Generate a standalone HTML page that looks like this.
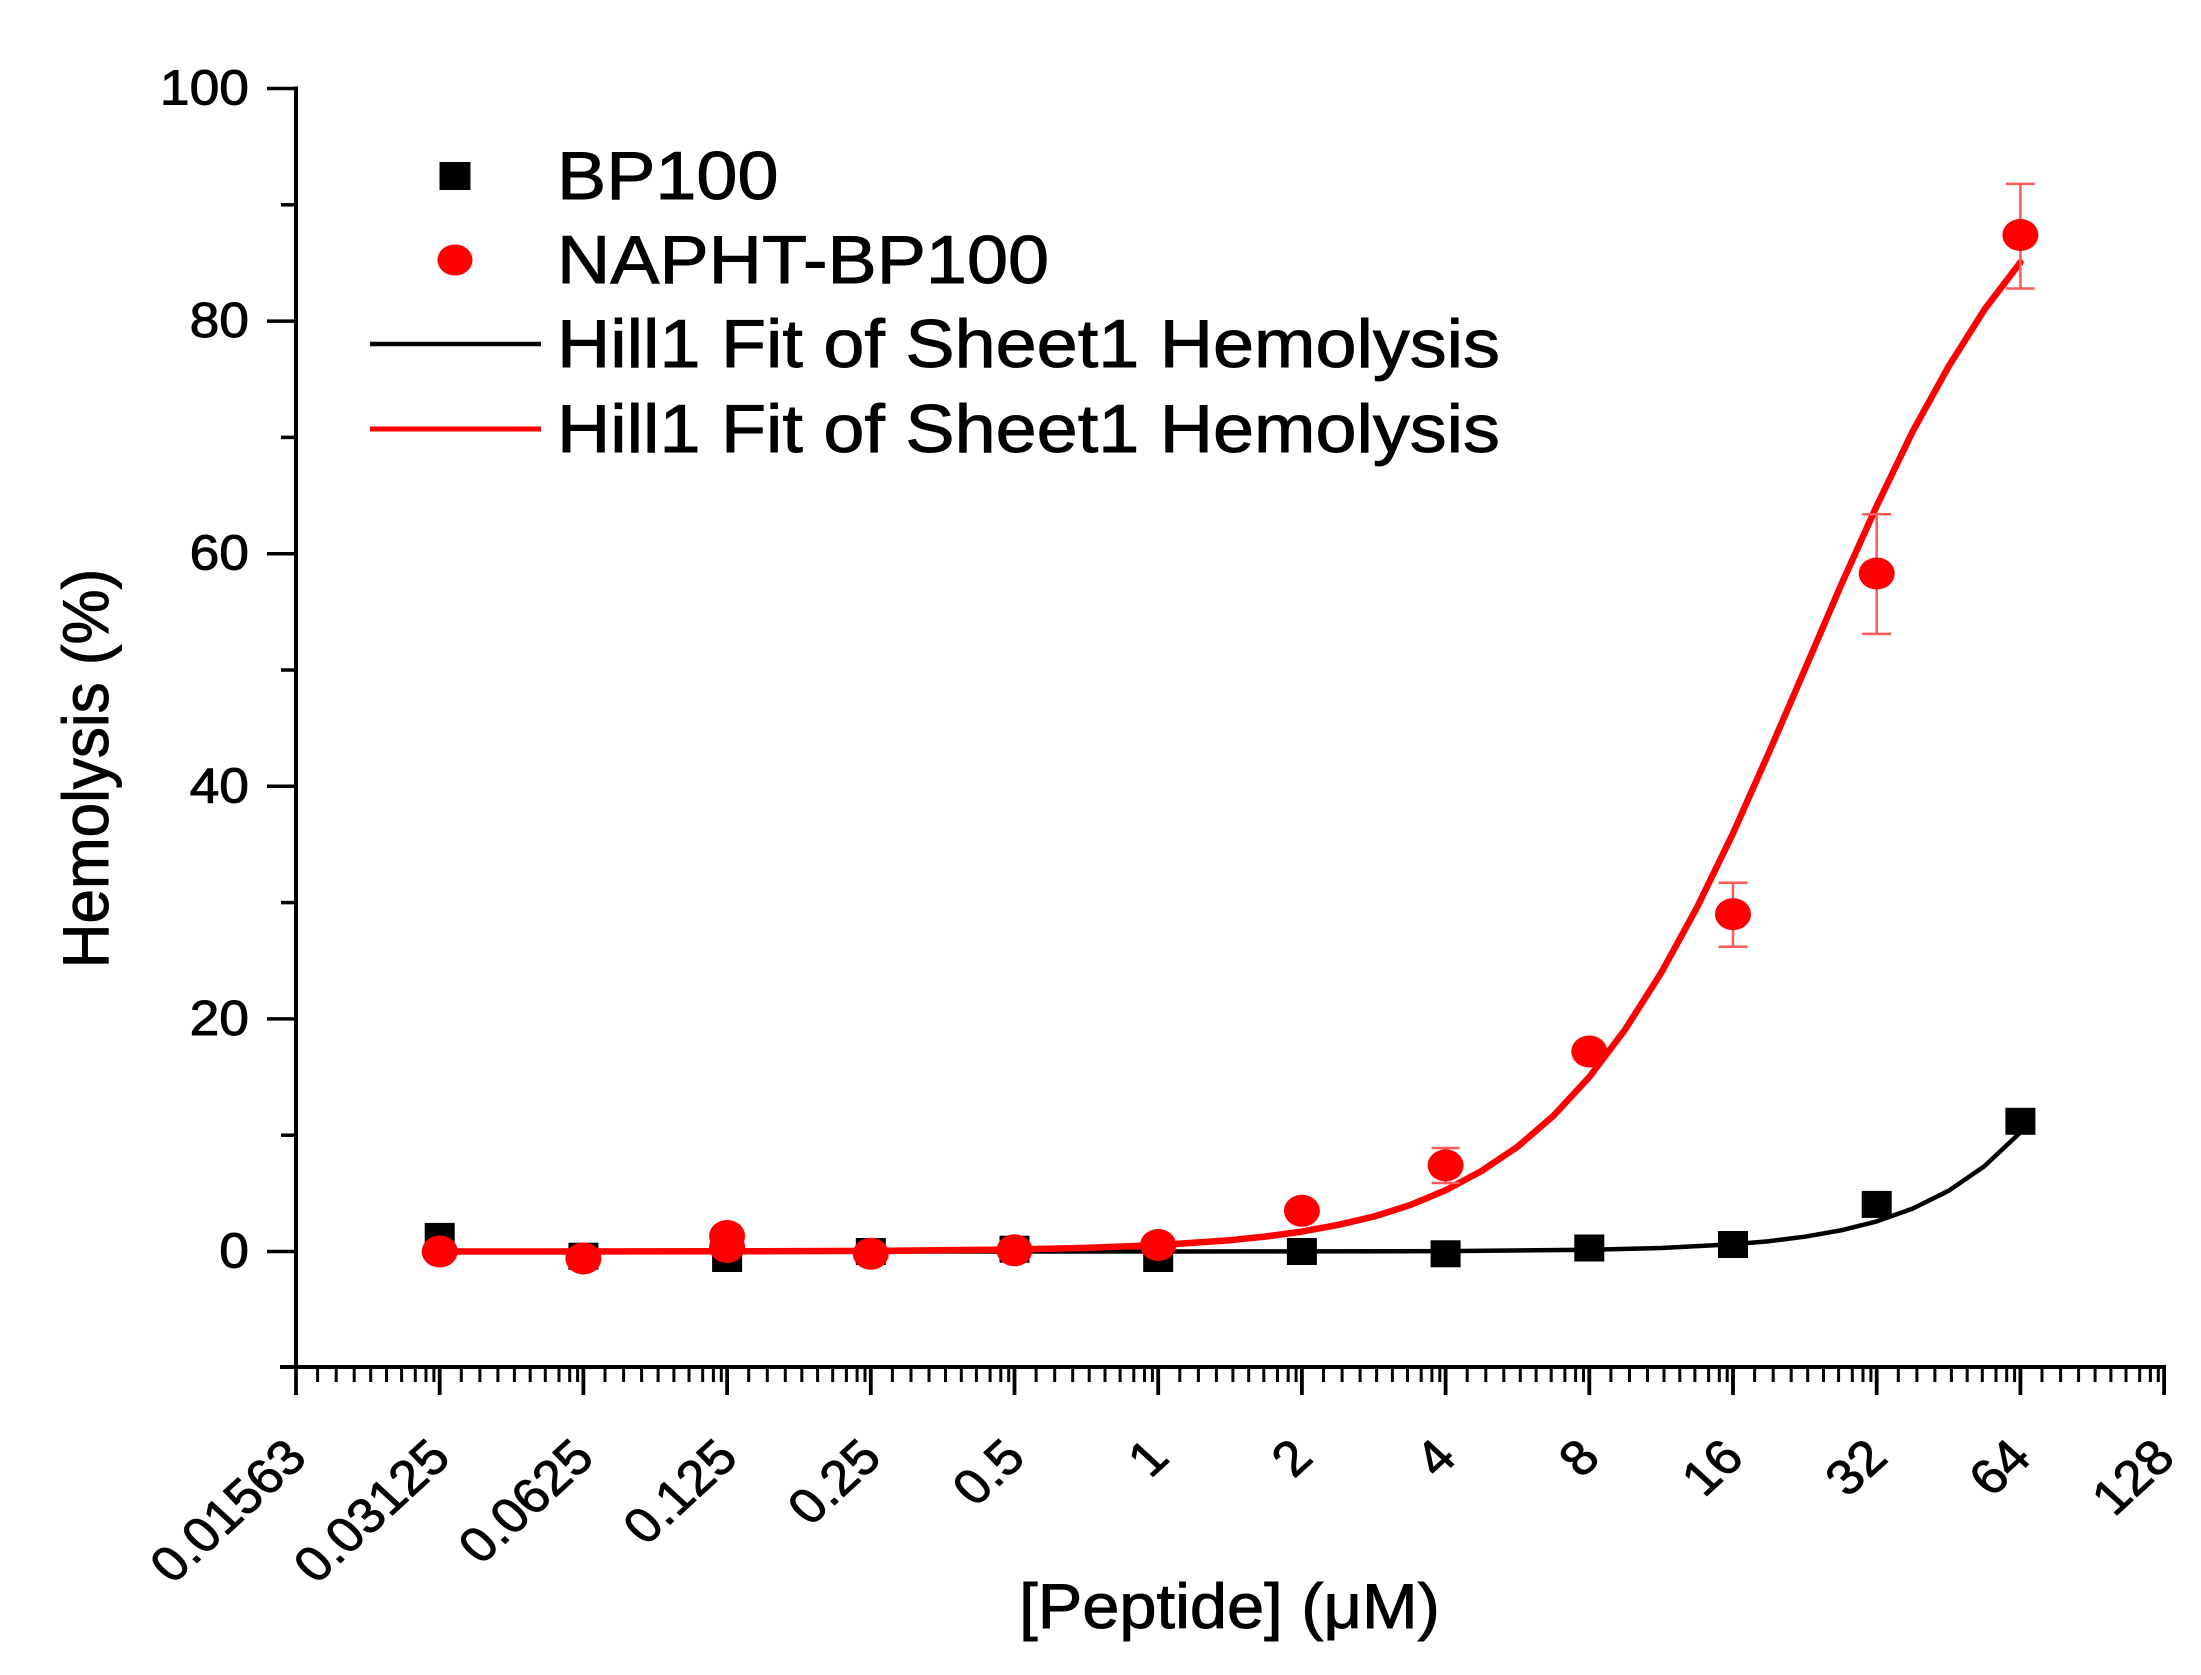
<!DOCTYPE html>
<html>
<head>
<meta charset="utf-8">
<style>
  html,body{margin:0;padding:0;background:#fff;}
  svg{display:block;}
  text{font-family:"Liberation Sans", Arial, sans-serif; fill:#000; stroke:#000; stroke-width:0.9px;}
</style>
</head>
<body>
<svg width="2201" height="1675" viewBox="0 0 2201 1675" xmlns="http://www.w3.org/2000/svg">
  <rect x="0" y="0" width="2201" height="1675" fill="#fff"/>

  <!-- Axes -->
  <g stroke="#000" stroke-width="4" fill="none" stroke-linecap="butt">
    <line x1="296" y1="86.5" x2="296" y2="1369"/>
    <line x1="280" y1="1367" x2="2166" y2="1367"/>
  </g>

  <!-- Y ticks -->
  <g stroke="#000" stroke-width="3.5">
    <line x1="267" y1="1251.5" x2="296" y2="1251.5"/>
    <line x1="267" y1="1018.9" x2="296" y2="1018.9"/>
    <line x1="267" y1="786.3" x2="296" y2="786.3"/>
    <line x1="267" y1="553.7" x2="296" y2="553.7"/>
    <line x1="267" y1="321.1" x2="296" y2="321.1"/>
    <line x1="267" y1="88.5" x2="296" y2="88.5"/>
    <line x1="281" y1="1135.2" x2="296" y2="1135.2"/>
    <line x1="281" y1="902.6" x2="296" y2="902.6"/>
    <line x1="281" y1="670" x2="296" y2="670"/>
    <line x1="281" y1="437.4" x2="296" y2="437.4"/>
    <line x1="281" y1="204.8" x2="296" y2="204.8"/>
  </g>

  <!-- X major ticks -->
  <path stroke="#000" stroke-width="3.8" fill="none" d="
    M296 1367V1395 M439.7 1367V1395 M583.4 1367V1395 M727.1 1367V1395 M870.8 1367V1395
    M1014.5 1367V1395 M1158.2 1367V1395 M1301.9 1367V1395 M1445.6 1367V1395 M1589.3 1367V1395
    M1733 1367V1395 M1876.7 1367V1395 M2020.4 1367V1395 M2164.1 1367V1395"/>
  <!-- X minor ticks -->
  <path stroke="#000" stroke-width="3" fill="none" d="
    M317.6 1367V1382 M336.2 1367V1382 M354.2 1367V1382 M370.7 1367V1382 M386.5 1367V1382 M401.6 1367V1382 M415.3 1367V1382 M426 1367V1382 M433.9 1367V1382
    M461.3 1367V1382 M479.9 1367V1382 M497.9 1367V1382 M514.4 1367V1382 M530.2 1367V1382 M545.3 1367V1382 M559 1367V1382 M569.7 1367V1382 M577.6 1367V1382
    M605 1367V1382 M623.6 1367V1382 M641.6 1367V1382 M658.1 1367V1382 M673.9 1367V1382 M689 1367V1382 M702.7 1367V1382 M713.4 1367V1382 M721.3 1367V1382
    M748.7 1367V1382 M767.3 1367V1382 M785.3 1367V1382 M801.8 1367V1382 M817.6 1367V1382 M832.7 1367V1382 M846.4 1367V1382 M857.1 1367V1382 M865 1367V1382
    M892.4 1367V1382 M911 1367V1382 M929 1367V1382 M945.5 1367V1382 M961.3 1367V1382 M976.4 1367V1382 M990.1 1367V1382 M1000.8 1367V1382 M1008.7 1367V1382
    M1036.1 1367V1382 M1054.7 1367V1382 M1072.7 1367V1382 M1089.2 1367V1382 M1105 1367V1382 M1120.1 1367V1382 M1133.8 1367V1382 M1144.5 1367V1382 M1152.4 1367V1382
    M1179.8 1367V1382 M1198.4 1367V1382 M1216.4 1367V1382 M1232.9 1367V1382 M1248.7 1367V1382 M1263.8 1367V1382 M1277.5 1367V1382 M1288.2 1367V1382 M1296.1 1367V1382
    M1323.5 1367V1382 M1342.1 1367V1382 M1360.1 1367V1382 M1376.6 1367V1382 M1392.4 1367V1382 M1407.5 1367V1382 M1421.2 1367V1382 M1431.9 1367V1382 M1439.8 1367V1382
    M1467.2 1367V1382 M1485.8 1367V1382 M1503.8 1367V1382 M1520.3 1367V1382 M1536.1 1367V1382 M1551.2 1367V1382 M1564.9 1367V1382 M1575.6 1367V1382 M1583.5 1367V1382
    M1610.9 1367V1382 M1629.5 1367V1382 M1647.5 1367V1382 M1664 1367V1382 M1679.8 1367V1382 M1694.9 1367V1382 M1708.6 1367V1382 M1719.3 1367V1382 M1727.2 1367V1382
    M1754.6 1367V1382 M1773.2 1367V1382 M1791.2 1367V1382 M1807.7 1367V1382 M1823.5 1367V1382 M1838.6 1367V1382 M1852.3 1367V1382 M1863 1367V1382 M1870.9 1367V1382
    M1898.3 1367V1382 M1916.9 1367V1382 M1934.9 1367V1382 M1951.4 1367V1382 M1967.2 1367V1382 M1982.3 1367V1382 M1996 1367V1382 M2006.7 1367V1382 M2014.6 1367V1382
    M2042 1367V1382 M2060.6 1367V1382 M2078.6 1367V1382 M2095.1 1367V1382 M2110.9 1367V1382 M2126 1367V1382 M2139.7 1367V1382 M2150.4 1367V1382 M2158.3 1367V1382"/>

  <!-- Y tick labels -->
  <g font-size="49" text-anchor="end">
    <text transform="translate(249,1267.5) scale(1.09,1)">0</text>
    <text transform="translate(249,1034.9) scale(1.09,1)">20</text>
    <text transform="translate(249,802.3) scale(1.09,1)">40</text>
    <text transform="translate(249,569.7) scale(1.09,1)">60</text>
    <text transform="translate(249,337.1) scale(1.09,1)">80</text>
    <text transform="translate(249,104.5) scale(1.09,1)">100</text>
  </g>

  <!-- X tick labels -->
  <g font-size="49" text-anchor="end">
    <text transform="translate(309,1460) scale(1.09,1) rotate(-45)">0.01563</text>
    <text transform="translate(452.7,1460) scale(1.09,1) rotate(-45)">0.03125</text>
    <text transform="translate(596.4,1460) scale(1.09,1) rotate(-45)">0.0625</text>
    <text transform="translate(740.1,1460) scale(1.09,1) rotate(-45)">0.125</text>
    <text transform="translate(883.8,1460) scale(1.09,1) rotate(-45)">0.25</text>
    <text transform="translate(1027.5,1460) scale(1.09,1) rotate(-45)">0.5</text>
    <text transform="translate(1171.2,1460) scale(1.09,1) rotate(-45)">1</text>
    <text transform="translate(1314.9,1460) scale(1.09,1) rotate(-45)">2</text>
    <text transform="translate(1458.6,1460) scale(1.09,1) rotate(-45)">4</text>
    <text transform="translate(1602.3,1460) scale(1.09,1) rotate(-45)">8</text>
    <text transform="translate(1746,1460) scale(1.09,1) rotate(-45)">16</text>
    <text transform="translate(1889.7,1460) scale(1.09,1) rotate(-45)">32</text>
    <text transform="translate(2033.4,1460) scale(1.09,1) rotate(-45)">64</text>
    <text transform="translate(2177.1,1460) scale(1.09,1) rotate(-45)">128</text>
  </g>

  <!-- Axis titles -->
  <text font-size="63" text-anchor="middle" transform="translate(1229.5,1628) scale(1.06,1)">[Peptide] (μM)</text>
  <text font-size="62" text-anchor="middle" transform="translate(108,768.5) scale(1.05,1) rotate(-90)">Hemolysis (%)</text>

  <!-- BP100 squares -->
  <g fill="#000">
    <rect x="424.7" y="1222.9" width="30" height="27"/>
    <rect x="568.4" y="1242.7" width="30" height="27"/>
    <rect x="712.1" y="1245" width="30" height="27"/>
    <rect x="855.8" y="1238" width="30" height="27"/>
    <rect x="999.5" y="1235.7" width="30" height="27"/>
    <rect x="1143.2" y="1245" width="30" height="27"/>
    <rect x="1286.9" y="1238" width="30" height="27"/>
    <rect x="1430.6" y="1240.3" width="30" height="27"/>
    <rect x="1574.3" y="1234.5" width="30" height="27"/>
    <rect x="1718" y="1231" width="30" height="27"/>
    <rect x="1861.7" y="1190.9" width="30" height="27"/>
    <rect x="2005.4" y="1107.8" width="30" height="27"/>
  </g>

  <!-- BP100 Hill fit -->
  <polyline fill="none" stroke="#000" stroke-width="4.5" stroke-linejoin="round"
    points="439.7,1251.5 1158.2,1251.5 1301.9,1251.4 1445.6,1251.1 1589.3,1249.8 1661.2,1248 1733,1244.3 1768.9,1241.2 1804.9,1236.7 1840.8,1230.4 1876.7,1221.4 1912.6,1208.6 1948.6,1190.8 1984.5,1166.1 2020.4,1132.4"/>

  <!-- NAPHT Hill fit -->
  <polyline fill="none" stroke="#ff0000" stroke-width="6.5" stroke-linejoin="round" stroke-linecap="round"
    points="439.7,1251.5 583.4,1251.5 727.1,1251.3 870.8,1250.9 1014.5,1249.5 1086.4,1247.9 1158.2,1245.1 1230.1,1240.2 1266,1236.5 1301.9,1231.6 1337.9,1224.9 1373.8,1216.6 1409.7,1205.2 1445.6,1190.3 1481.5,1171 1517.5,1146.8 1553.4,1115.8 1589.3,1077.1 1625.2,1029.4 1661.2,972.8 1697.1,907.3 1733,833.3 1768.9,752.6 1804.9,669.3 1840.8,585.7 1876.7,506 1912.6,431.6 1948.6,366.5 1984.5,309.5 2020.4,262.4"/>

  <!-- NAPHT error bars -->
  <g stroke="#ff5a5a" stroke-width="2.5" fill="none">
    <path d="M1445.6 1183V1148 M1431.6 1183H1459.6 M1431.6 1148H1459.6"/>
    <path d="M1733 946.8V882.8 M1718.5 946.8H1747.5 M1718.5 882.8H1747.5"/>
    <path d="M1876.7 633.9V514.2 M1862.2 633.9H1891.2 M1862.2 514.2H1891.2"/>
    <path d="M2020.4 288.5V183.9 M2005.9 288.5H2034.9 M2005.9 183.9H2034.9"/>
  </g>

  <!-- NAPHT circles -->
  <g fill="#ff0000">
    <ellipse cx="439.7" cy="1251.5" rx="18" ry="16"/>
    <ellipse cx="583.4" cy="1258.5" rx="18" ry="16"/>
    <ellipse cx="727.1" cy="1236" rx="18" ry="16"/>
    <ellipse cx="727.1" cy="1247" rx="18" ry="16"/>
    <ellipse cx="870.8" cy="1253.8" rx="18" ry="16"/>
    <ellipse cx="1014.5" cy="1250.3" rx="18" ry="16"/>
    <ellipse cx="1158.2" cy="1245" rx="18" ry="16"/>
    <ellipse cx="1301.9" cy="1210.8" rx="18" ry="16"/>
    <ellipse cx="1445.6" cy="1165.4" rx="18" ry="16"/>
    <ellipse cx="1589.3" cy="1051.5" rx="18" ry="16"/>
    <ellipse cx="1733" cy="914.2" rx="18" ry="16"/>
    <ellipse cx="1876.7" cy="573.5" rx="18" ry="16"/>
    <ellipse cx="2020.4" cy="235" rx="18" ry="16"/>
  </g>

  <!-- Legend -->
  <rect x="439.5" y="162" width="31" height="28" fill="#000"/>
  <ellipse cx="455" cy="260" rx="17.5" ry="15.5" fill="#ff0000"/>
  <line x1="370" y1="344" x2="541" y2="344" stroke="#000" stroke-width="4.5"/>
  <line x1="370" y1="429" x2="541" y2="429" stroke="#ff0000" stroke-width="5"/>
  <g font-size="68">
    <text transform="translate(557,199) scale(1.085,1)">BP100</text>
    <text transform="translate(557,283) scale(1.085,1)">NAPHT-BP100</text>
    <text transform="translate(557,367) scale(1.085,1)">Hill1 Fit of Sheet1 Hemolysis</text>
    <text transform="translate(557,452) scale(1.085,1)">Hill1 Fit of Sheet1 Hemolysis</text>
  </g>
</svg>
</body>
</html>
